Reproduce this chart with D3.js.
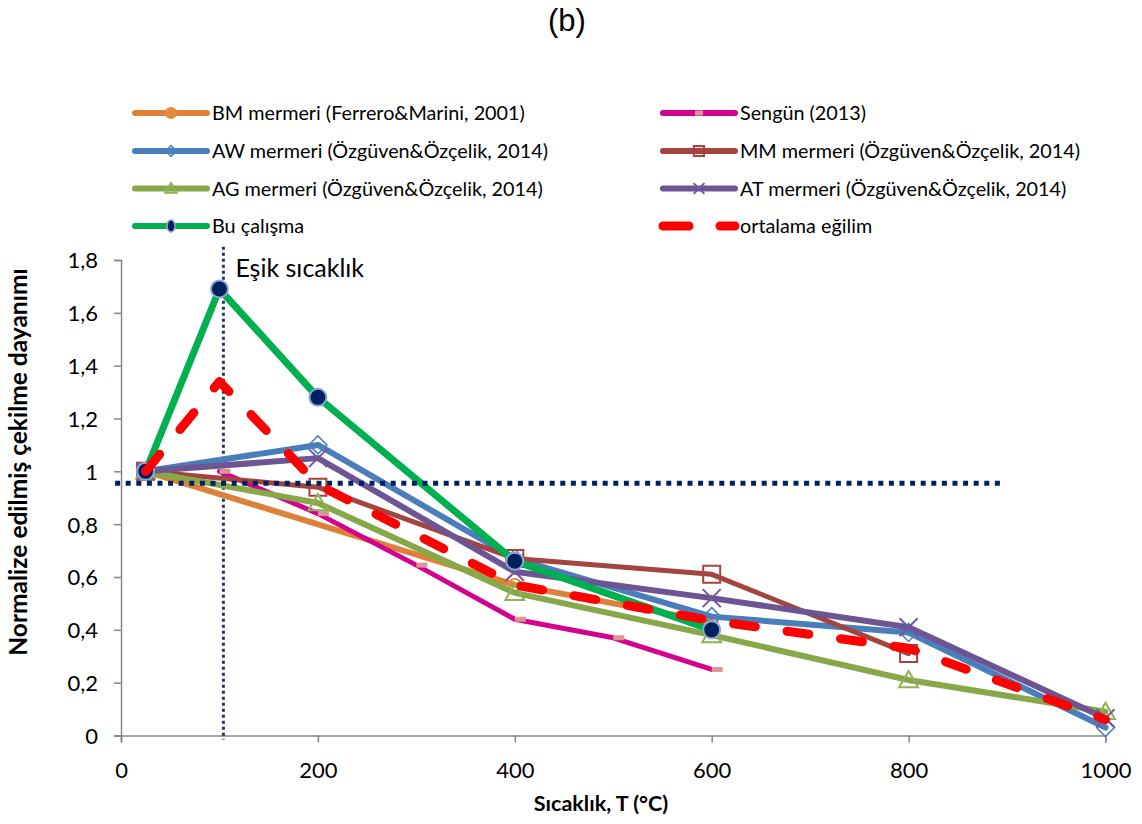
<!DOCTYPE html>
<html>
<head>
<meta charset="utf-8">
<script src="https://cdn.jsdelivr.net/npm/d3@7"></script>
<style>
  body { margin: 0; background: #ffffff; }
  svg { display: block; }
  text { font-family: Lato, "Open Sans", sans-serif; fill: #000; }
</style>
</head>
<body>
<svg id="chart" width="1142" height="824"></svg>
<script>
// Temperatures (°C) at which the normalized tensile strength was reported
const temperatures = [25, 100, 200, 300, 400, 500, 600, 800, 1000];

// Normalized tensile strength per study (null = not measured)
const bmValues      = [1.00, null, null, null, 0.57, null, 0.43, null, null];
const sengunValues  = [null, 1.00, 0.84, 0.645, 0.44, 0.37, 0.25, null, null];
const awValues      = [1.00, null, 1.10, null, 0.67, null, 0.45, 0.39, 0.03];
const mmValues      = [1.00, null, 0.94, null, 0.67, null, 0.61, 0.31, null];
const agValues      = [1.00, null, 0.88, null, 0.54, null, 0.38, 0.21, 0.09];
const atValues      = [1.00, null, 1.05, null, 0.62, null, 0.52, 0.41, 0.065];
const buValues      = [1.00, 1.69, 1.28, null, 0.66, null, 0.40, null, null];
const trendValues   = [1.00, 1.34, 0.95, null, 0.57, null, 0.435, 0.33, 0.06];

const seriesNames = [
  "BM mermeri (Ferrero&Marini, 2001)",
  "Sengün (2013)",
  "AW mermeri (Özgüven&Özçelik, 2014)",
  "MM mermeri (Özgüven&Özçelik, 2014)",
  "AG mermeri (Özgüven&Özçelik, 2014)",
  "AT mermeri (Özgüven&Özçelik, 2014)",
  "Bu çalışma",
  "ortalama eğilim"
];

const xTicks = [0, 200, 400, 600, 800, 1000];
const yTicks = [0, 0.2, 0.4, 0.6, 0.8, 1.0, 1.2, 1.4, 1.6, 1.8];

// Threshold temperature marker and reference strength level
const thresholdTemp = 104;
const thresholdSpan = [-0.015, 1.85];
const referenceLevel = 0.955;
const referenceSpan = [-6, 894];
const thresholdLabel = "Eşik sıcaklık";

const chartTitle = "(b)";
const xTitle = "Sıcaklık, T (°C)";
const yTitle = "Normalize edilmiş çekilme dayanımı";

const svg = d3.select("#chart");

const x = d3.scaleLinear().domain([0, 1000]).range([121, 1105.5]);
const y = d3.scaleLinear().domain([0, 1.8]).range([735.5, 260]);

const series = [
  { name: seriesNames[0], values: bmValues,     color: "#DD8139", width: 6, marker: "circleHollow", mColor: "#E58A3E" },
  { name: seriesNames[1], values: sengunValues, color: "#D4008F", width: 5, marker: "dash",         mColor: "#D99694" },
  { name: seriesNames[2], values: awValues,     color: "#4A7EBB", width: 6, marker: "diamond",      mColor: "#4F81BD" },
  { name: seriesNames[3], values: mmValues,     color: "#A3443F", width: 5, marker: "square",       mColor: "#A8423E" },
  { name: seriesNames[4], values: agValues,     color: "#87A848", width: 6, marker: "triangle",     mColor: "#8DB255" },
  { name: seriesNames[5], values: atValues,     color: "#6D5593", width: 6, marker: "cross",        mColor: "#6F58A0" },
  { name: seriesNames[6], values: buValues,     color: "#00B050", width: 7, marker: "dot",          mColor: "#002060" },
  { name: seriesNames[7], values: trendValues,  color: "#FF0000", width: 9, marker: null,           mColor: null, dash: "22,32" }
];

// Marker path builders
function markerPath(type, s) {
  switch (type) {
    case "diamond":  return `M0,${-s}L${s},0L0,${s}L${-s},0Z`;
    case "square":   return `M${-s},${-s}H${s}V${s}H${-s}Z`;
    case "triangle": return `M0,${-s}L${s * 1.05},${s * 0.8}H${-s * 1.05}Z`;
    case "cross":    return `M${-s},${-s}L${s},${s}M${-s},${s}L${s},${-s}`;
  }
  return "";
}

function drawMarker(g, type, color, cx, cy, scale) {
  const k = scale || 1;
  if (type === "circleHollow") {
    g.append("circle").attr("cx", cx).attr("cy", cy).attr("r", 6 * k)
      .attr("fill", k < 1 ? color : "none").attr("stroke", color).attr("stroke-width", 2);
  } else if (type === "dot") {
    g.append("circle").attr("cx", cx).attr("cy", cy).attr("r", 8.5 * k)
      .attr("fill", color).attr("stroke", "#8EA6D4").attr("stroke-width", 2);
  } else if (type === "dash") {
    g.append("rect").attr("x", k < 1 ? cx - 4 : cx).attr("y", cy - 2.5)
      .attr("width", k < 1 ? 8 : 11).attr("height", 5).attr("fill", color);
  } else if (type) {
    const size = type === "diamond" ? 9 : type === "square" ? 8.5 : 9;
    g.append("path").attr("transform", `translate(${cx},${cy})`)
      .attr("d", markerPath(type, size * k))
      .attr("fill", "none").attr("stroke", color)
      .attr("stroke-width", type === "diamond" ? 1.6 : 2);
  }
}

// Title
svg.append("text").attr("x", 567).attr("y", 31).attr("text-anchor", "middle")
  .style("font-family", "'Liberation Sans', Arial, sans-serif").style("font-size", "31px")
  .text(chartTitle);

// Axes
const axisColor = "#868686";
const yAxis = svg.append("g").attr("transform", `translate(${x(0)},0)`)
  .call(d3.axisLeft(y).tickValues(yTicks).tickSize(7).tickPadding(16)
    .tickFormat(d => String(+d.toFixed(1)).replace(".", ",")));
const xAxis = svg.append("g").attr("transform", `translate(0,${y(0)})`)
  .call(d3.axisBottom(x).tickValues(xTicks).tickSize(7).tickPadding(8).tickFormat(d3.format("d")));

[xAxis, yAxis].forEach(a => {
  a.select(".domain").attr("stroke", axisColor).attr("stroke-width", 1.5);
  a.selectAll(".tick line").attr("stroke", axisColor).attr("stroke-width", 1.5);
  a.selectAll("text").style("font-family", "Lato, sans-serif").style("font-size", "22px").attr("fill", "#000");
});
xAxis.selectAll("text").attr("y", 42).attr("dy", 0);
yAxis.selectAll("text").attr("dy", "0.36em");

// Axis titles
svg.append("text").attr("x", 601).attr("y", 811).attr("text-anchor", "middle")
  .style("font-size", "21.5px").style("font-weight", "bold").text(xTitle);
svg.append("text").attr("transform", `translate(27,462) rotate(-90)`).attr("text-anchor", "middle")
  .style("font-size", "24.5px").style("font-weight", "bold").text(yTitle);

// Threshold temperature (vertical dotted line)
svg.append("line")
  .attr("x1", x(thresholdTemp)).attr("x2", x(thresholdTemp))
  .attr("y1", y(thresholdSpan[1])).attr("y2", y(thresholdSpan[0]))
  .attr("stroke", "#1F3864").attr("stroke-width", 3).attr("stroke-dasharray", "3,3");

svg.append("text").attr("x", x(thresholdTemp) + 12).attr("y", 277)
  .style("font-size", "25px").text(thresholdLabel);

// Series lines and markers
const line = d3.line().x(d => x(d.t)).y(d => y(d.v));
series.forEach(s => {
  const pts = temperatures.map((t, i) => ({ t, v: s.values[i] })).filter(d => d.v !== null);
  const g = svg.append("g");
  g.append("path").datum(pts).attr("d", line)
    .attr("fill", "none").attr("stroke", s.color).attr("stroke-width", s.width)
    .attr("stroke-linejoin", "round").attr("stroke-linecap", "round")
    .attr("stroke-dasharray", s.dash || null);
  if (s.marker) pts.forEach(d => drawMarker(g, s.marker, s.mColor, x(d.t), y(d.v)));
});

// Reference strength level (horizontal dotted line)
svg.append("line")
  .attr("x1", x(referenceSpan[0])).attr("x2", x(referenceSpan[1]))
  .attr("y1", y(referenceLevel)).attr("y2", y(referenceLevel))
  .attr("stroke", "#002060").attr("stroke-width", 5).attr("stroke-dasharray", "5,5.6");

// Legend (two columns, row-wise)
const legendCols = [135, 663];
const legendRows = [113, 151, 188.5, 226];
series.forEach((s, i) => {
  const lx = legendCols[i % 2], ly = legendRows[Math.floor(i / 2)];
  const g = svg.append("g");
  g.append("line").attr("x1", lx).attr("x2", lx + 72).attr("y1", ly).attr("y2", ly)
    .attr("stroke", s.color).attr("stroke-width", s.dash ? 9 : 6).attr("stroke-linecap", "round")
    .attr("stroke-dasharray", s.dash ? "26,31" : null);
  if (s.marker) {
    const cx = lx + 36;
    if (s.marker === "circleHollow") drawMarker(g, s.marker, s.mColor, cx, ly, 0.85);
    else if (s.marker === "dot") {
      g.append("ellipse").attr("cx", cx).attr("cy", ly).attr("rx", 4).attr("ry", 6)
        .attr("fill", s.mColor).attr("stroke", "#8EA6D4").attr("stroke-width", 1.5);
    } else drawMarker(g, s.marker, s.mColor, cx, ly, 0.6);
  }
  g.append("text").attr("x", lx + 77).attr("y", ly).attr("dy", "0.36em")
    .style("font-size", "19.8px").text(s.name);
});
</script>
</body>
</html>
